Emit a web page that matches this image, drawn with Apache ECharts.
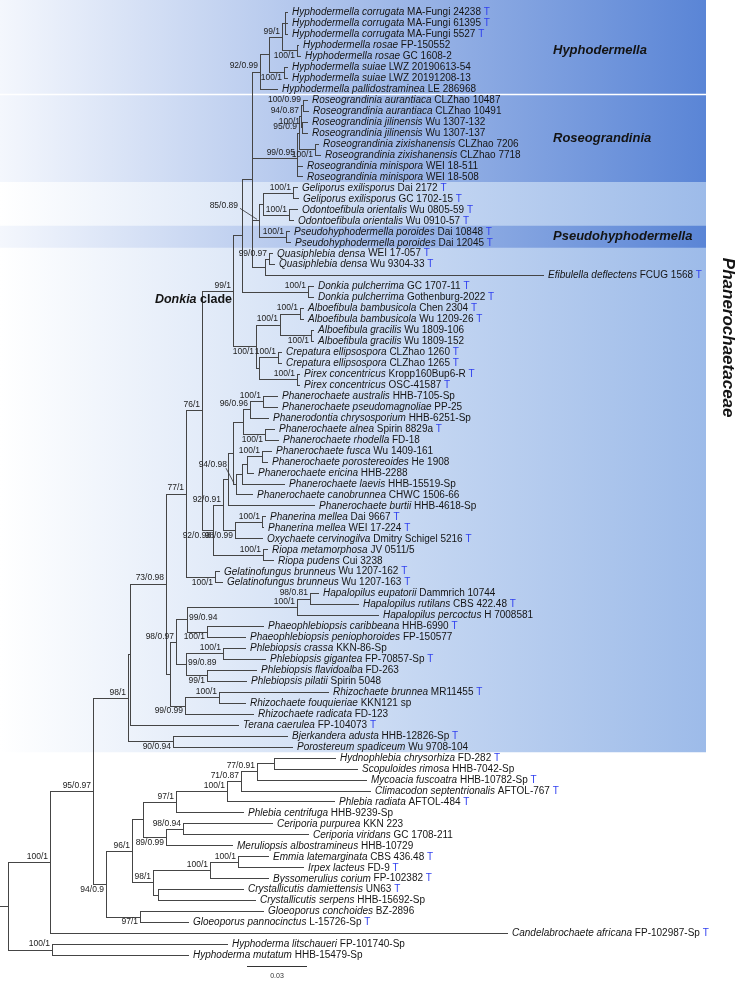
<!DOCTYPE html>
<html><head><meta charset="utf-8">
<script src="https://cdn.jsdelivr.net/npm/echarts@6/dist/echarts.min.js"></script>
<style>html,body{margin:0;padding:0;background:#fff}#c{width:736px;height:992px}</style>
</head><body><div id="c"></div>
<script>
// ---------- DATA ----------
// leaves (top to bottom)
const leafTaxa = [
'Hyphodermella corrugata','Hyphodermella corrugata','Hyphodermella corrugata','Hyphodermella rosae','Hyphodermella rosae',
'Hyphodermella suiae','Hyphodermella suiae','Hyphodermella pallidostraminea','Roseograndinia aurantiaca','Roseograndinia aurantiaca',
'Roseograndinia jilinensis','Roseograndinia jilinensis','Roseograndinia zixishanensis','Roseograndinia zixishanensis','Roseograndinia minispora',
'Roseograndinia minispora','Geliporus exilisporus','Geliporus exilisporus','Odontoefibula orientalis','Odontoefibula orientalis',
'Pseudohyphodermella poroides','Pseudohyphodermella poroides','Quasiphlebia densa','Quasiphlebia densa','Efibulella deflectens',
'Donkia pulcherrima','Donkia pulcherrima','Alboefibula bambusicola','Alboefibula bambusicola','Alboefibula gracilis',
'Alboefibula gracilis','Crepatura ellipsospora','Crepatura ellipsospora','Pirex concentricus','Pirex concentricus',
'Phanerochaete australis','Phanerochaete pseudomagnoliae','Phanerodontia chrysosporium','Phanerochaete alnea','Phanerochaete rhodella',
'Phanerochaete fusca','Phanerochaete porostereoides','Phanerochaete ericina','Phanerochaete laevis','Phanerochaete canobrunnea',
'Phanerochaete burtii','Phanerina mellea','Phanerina mellea','Oxychaete cervinogilva','Riopa metamorphosa',
'Riopa pudens','Gelatinofungus brunneus','Gelatinofungus brunneus','Hapalopilus eupatorii','Hapalopilus rutilans',
'Hapalopilus percoctus','Phaeophlebiopsis caribbeana','Phaeophlebiopsis peniophoroides','Phlebiopsis crassa','Phlebiopsis gigantea',
'Phlebiopsis flavidoalba','Phlebiopsis pilatii','Rhizochaete brunnea','Rhizochaete fouquieriae','Rhizochaete radicata',
'Terana caerulea','Bjerkandera adusta','Porostereum spadiceum','Hydnophlebia chrysorhiza','Scopuloides rimosa',
'Mycoacia fuscoatra','Climacodon septentrionalis','Phlebia radiata','Phlebia centrifuga','Ceriporia purpurea',
'Ceriporia viridans','Meruliopsis albostramineus','Emmia latemarginata','Irpex lacteus','Byssomerulius corium',
'Crystallicutis damiettensis','Crystallicutis serpens','Gloeoporus conchoides','Gloeoporus pannocinctus','Candelabrochaete africana',
'Hyphoderma litschaueri','Hyphoderma mutatum'];
const leafStrains = [
'MA-Fungi 24238','MA-Fungi 61395','MA-Fungi 5527','FP-150552','GC 1608-2',
'LWZ 20190613-54','LWZ 20191208-13','LE 286968','CLZhao 10487','CLZhao 10491',
'Wu 1307-132','Wu 1307-137','CLZhao 7206','CLZhao 7718','WEI 18-511',
'WEI 18-508','Dai 2172','GC 1702-15','Wu 0805-59','Wu 0910-57',
'Dai 10848','Dai 12045','WEI 17-057','Wu 9304-33','FCUG 1568',
'GC 1707-11','Gothenburg-2022','Chen 2304','Wu 1209-26','Wu 1809-106',
'Wu 1809-152','CLZhao 1260','CLZhao 1265','Kropp160Bup6-R','OSC-41587',
'HHB-7105-Sp','PP-25','HHB-6251-Sp','Spirin 8829a','FD-18',
'Wu 1409-161','He 1908','HHB-2288','HHB-15519-Sp','CHWC 1506-66',
'HHB-4618-Sp','Dai 9667','WEI 17-224','Dmitry Schigel 5216','JV 0511/5',
'Cui 3238','Wu 1207-162','Wu 1207-163','Dammrich 10744','CBS 422.48',
'H 7008581','HHB-6990','FP-150577','KKN-86-Sp','FP-70857-Sp',
'FD-263','Spirin 5048','MR11455','KKN121 sp','FD-123',
'FP-104073','HHB-12826-Sp','Wu 9708-104','FD-282','HHB-7042-Sp',
'HHB-10782-Sp','AFTOL-767','AFTOL-484','HHB-9239-Sp','KKN 223',
'GC 1708-211','HHB-10729','CBS 436.48','FD-9','FP-102382',
'UN63','HHB-15692-Sp','BZ-2896','L-15726-Sp','FP-102987-Sp',
'FP-101740-Sp','HHB-15479-Sp'];
const typeStrain = [
1,1,1,0,0, 0,0,0,0,0, 0,0,0,0,0, 0,1,1,1,1, 1,1,1,1,1, 1,1,1,1,0,
0,1,1,1,1, 0,0,0,1,0, 0,0,0,0,0, 0,1,1,1,0, 0,1,1,0,1, 0,1,0,0,1,
0,0,1,0,0, 1,1,0,1,0, 1,1,1,0,0, 0,0,1,1,1, 1,0,0,1,1, 0,0];
// branch tip depth of each leaf (units of 0.001 substitutions/site)
const leafDepths = [
143.5,143.5,143.5,149,150, 143.5,143.5,138.5,153.5,154, 153.5,153.5,159,160,151, 151,148.5,149,148.5,146.5,
144.5,145,136,137,271.5, 156.5,156.5,151.5,151.5,156.5, 156.5,140.5,140.5,149.5,149.5, 138.5,138.5,134,137,139,
135.5,133.5,126.5,142,126, 157,132.5,131.5,131,133.5, 136.5,109.5,111,159,179, 189,131.5,122.5,122.5,132.5,
128,123,164,122.5,126.5, 119,143.5,146,167.5,178.5, 183,185,167,121.5,136, 154,116,134,151.5,134,
121.5,127.5,131.5,94,253.5, 113.5,94];
const leafParents = [
'NCorr','NCorr','NCorr','NRosae','NRosae','NSuiae','NSuiae','NHyph','NAur','NAur',
'NJil','NJil','NZixi','NZixi','NRose','NRose','NGeli','NGeli','NOdo','NOdo',
'NPseudo','NPseudo','NQuasi','NQuasi','NQE','NDonkia','NDonkia','NAlboB','NAlboB','NAlboG',
'NAlboG','NCrep','NCrep','NPirex','NPirex','NAP','NAP','N96_96','NAR','NAR',
'NFP','NFP','Nbeta','Ngamma','Ndelta','Nzeta','NPhanerina','NPhanerina','N98_99','NRiopa',
'NRiopa','NGelat','NGelat','NHap1','NHap1','NHap2','NPhaeo','NPhaeo','NPcg','NPcg',
'NPfp','NPfp','NRb','NRb','N99_99','NX','N90','N90','Nhs','Nhs',
'N77b','N71','N100a','N97','N98c','N98c','N89','N100c','N100c','N100b',
'NCry','NCry','NGloeo','NGloeo','I1','Hyp','Hyp'];
// internal nodes
const nodeIds = ['root','I1','Hyp','N95','N98','NX','N73','N77','N76','N99',
'N242','N252','NHyph','N269','N99_1H','NCorr','NRosae','NSuiae','NRose','NR1',
'NR2','NAur','NJil','NZixi','NGOP','NGO','NGeli','NOdo','NPseudo','NQE',
'NQuasi','NDonkia','Nlow','NAlbo','NAlboB','NAlboG','NCP','NCrep','NPirex','N92_98',
'N92_91','Nzeta','Nepsilon','Nalpha','N96_96','NAP','NAR','Ndelta','Ngamma','Nbeta',
'NFP','N98_99','NPhanerina','NRiopa','NGelat','Nlower','Nq','N99_94','NHap2','NHap1',
'NPhaeo','NPhl','NPcg','NPfp','N99_99','NRb','N90','N94','N96','NA',
'N97','N100a','N71','N77b','Nhs','N89','N98c','N98b','N100b','N100c',
'NCry','NGloeo'];
const nodeParents = ['','root','root','I1','N95','N98','NX','N73','N77','N76',
'N99','N242','N252','NHyph','N269','N99_1H','N99_1H','N269','N252','NRose',
'NR1','NR2','NR2','NR1','N252','NGOP','NGO','NGO','NGOP','N252',
'NQE','N242','N99','Nlow','NAlbo','NAlbo','Nlow','NCP','NCP','N76',
'N92_98','N92_91','Nzeta','Nepsilon','Nalpha','N96_96','Nalpha','Nepsilon','Ndelta','Ngamma',
'Nbeta','N92_91','N98_99','N92_98','N77','N73','Nlower','Nq','N99_94','NHap2',
'N99_94','Nq','NPhl','NPhl','Nlower','N99_99','N98','N95','N94','N96',
'NA','N97','N100a','N71','N77b','NA','N89','N96','N98b','N100b',
'N98b','N94'];
const nodeDepths = [4,25,26,46.5,64,65,83,93,101,116.5,
121,126,130,134.5,141,142.5,148.5,142,148.5,149.5,
150.5,151.5,151,157.5,129.5,131.5,146.5,144.5,143,132.5,
134.5,154,128,140,150,155.5,129.5,139,148.5,106.5,
111.5,114,116.5,121.5,125,131.5,132.5,118,121,123.5,
131,117.5,131,131.5,107.5,85,88,93.5,148.5,155,
103.5,93,111.5,103.5,92.5,109.5,86.5,53,66,71.5,
88,113.5,120.5,128.5,137,83,91.5,76.5,105,119,
79,70];
const nodeSupports = ['','100/1','100/1','95/0.97','98/1','','73/0.98','77/1','76/1','99/1',
'','','92/0.99','','99/1','','100/1','100/1','99/0.95','95/0.9',
'94/0.87','100/0.99','100/1','100/1','85/0.89','','100/1','100/1','100/1','',
'99/0.97','100/1','100/1','100/1','100/1','100/1','','100/1','100/1','92/0.98',
'92/0.91','','','','96/0.96','100/1','100/1','94/0.98','','',
'100/1','98/0.99','100/1','100/1','100/1','','98/0.97','99/0.94','100/1','98/0.81',
'100/1','99/0.89','100/1','99/1','99/0.99','100/1','90/0.94','94/0.9','96/1','',
'97/1','100/1','71/0.87','77/0.91','','89/0.99','98/0.94','98/1','100/1','100/1',
'','97/1'];
// clade boxes: [first leaf, last leaf, tone, name]
const cladeBoxes = [[0,67,'light',''],[0,7,'dark','Hyphodermella'],[8,15,'dark','Roseograndinia'],[20,21,'dark','Pseudohyphodermella']];
const familyName = 'Phanerochaetaceae';
const scaleBarLength = 30; // = 0.03
const scaleBarLabel = '0.03';

// ---------- STYLE ----------
const F = "'Liberation Sans', Arial, Helvetica, sans-serif";
const LINE = '#454545';
const labelMode = {NRosae:'below',NSuiae:'below',NZixi:'below',Nlow:'below',NAlboG:'below',N92_98:'below',NAR:'below',
  N98_99:'below',NGelat:'below',NPhaeo:'below',NPfp:'below',N99_99:'below',N90:'below',N94:'below',N89:'below',NGloeo:'below',
  N99_94:'right',NPhl:'right',NGOP:'leaderA',Ndelta:'leaderB'};
const boxTones = {light:['#ffffff','#9dbbe9'], dark:['#f4f7fd','#5a85d6']};
const boxRight = 353, cladeLabelX = 276.5;
const scaleBarPos = [123.5, 87.0];

// ---------- LAYOUT ----------
const idx = {}; nodeIds.forEach((id,i)=>idx[id]=i);
const kids = nodeIds.map(()=>[]);
leafParents.forEach((p,i)=>kids[idx[p]].push({leaf:true,i}));
nodeParents.forEach((p,i)=>{ if(p) kids[idx[p]].push({leaf:false,i}); });
const nodeY=[], nodeMin=[], nodeMax=[];
function yOf(c){ return c.leaf ? c.i : calcY(c.i); }
function calcY(i){
  if(nodeY[i]!==undefined) return nodeY[i];
  const ys = kids[i].map(yOf);
  nodeY[i] = ys.reduce((a,b)=>a+b,0)/ys.length;
  nodeMin[i] = Math.min(...ys); nodeMax[i] = Math.max(...ys);
  return nodeY[i];
}
nodeIds.forEach((_,i)=>calcY(i));
const branchData = [];
leafTaxa.forEach((_,i)=>branchData.push([leafDepths[i], i, nodeDepths[idx[leafParents[i]]], i, i, 0]));
nodeIds.forEach((id,i)=>branchData.push([nodeDepths[i], nodeY[i], nodeParents[i]?nodeDepths[idx[nodeParents[i]]]:0, nodeMin[i], nodeMax[i], 1]));
const supportData = nodeIds.map((id,i)=>[nodeDepths[i], nodeY[i]]);

const snap = v => Math.round(v)+0.5;

const chart = echarts.init(document.getElementById('c'), null, {renderer:'canvas'});
chart.setOption({
  animation:false,
  grid:{left:0,right:0,top:12,bottom:37},
  xAxis:{type:'value',min:0,max:368,show:false},
  yAxis:{type:'value',min:0,max:86,inverse:true,show:false},
  series:[
  { type:'custom', clip:false, z:1, data: cladeBoxes.map((b,i)=>[i]),
    renderItem(params, api){
      const k = params.dataIndex, b = cladeBoxes[k];
      const top = b[0]===0 ? 0 : api.coord([0,b[0]-0.5])[1];
      const bottom = api.coord([0,b[1]+0.5])[1];
      const x0 = api.coord([0,0])[0], x1 = api.coord([boxRight,0])[0];
      const c = boxTones[b[2]];
      const els = [{type:'rect', shape:{x:x0,y:top,width:x1-x0,height:bottom-top},
        style:{fill:new echarts.graphic.LinearGradient(0,0,1,0,[{offset:0,color:c[0]},{offset:1,color:c[1]}])}}];
      // white separator where two dark boxes touch
      const prev = cladeBoxes[k-1];
      if(k>1 && prev && prev[2]==='dark' && prev[1]+1===b[0]){
        els.push({type:'line', shape:{x1:x0,y1:snap(top),x2:x1,y2:snap(top)}, style:{stroke:'#ffffff', lineWidth:1.5}});
      }
      if(b[3]){
        const p = api.coord([cladeLabelX,(b[0]+b[1])/2]);
        els.push({type:'text', x:p[0], y:p[1], style:{text:b[3], font:`italic bold 13px ${F}`, fill:'#141414',
          align:'left', verticalAlign:'middle', textAlign:'left', textVerticalAlign:'middle'}});
      }
      return {type:'group', children:els};
    }},
  { type:'custom', clip:false, z:3, data: branchData,
    renderItem(params, api){
      const x=api.value(0), y=api.value(1), px=api.value(2);
      const p = api.coord([x,y]), pp = api.coord([px,y]);
      const st = {stroke:LINE, lineWidth:1};
      const yy = snap(p[1]);
      const ch = [{type:'line', shape:{x1:Math.round(pp[0]),y1:yy,x2:Math.round(p[0])+1,y2:yy}, style:st}];
      if(api.value(5)===1){
        const a = api.coord([x,api.value(3)]), b = api.coord([x,api.value(4)]);
        ch.push({type:'line', shape:{x1:snap(p[0]),y1:Math.round(a[1]),x2:snap(p[0]),y2:Math.round(b[1])+1}, style:st});
      }
      return {type:'group', children:ch};
    }},
  { type:'custom', clip:false, z:4, data: leafTaxa.map((_,i)=>[leafDepths[i], i]),
    renderItem(params, api){
      const i = params.dataIndex;
      const p = api.coord([api.value(0), api.value(1)]);
      const txt = `{i|${leafTaxa[i]}} ${leafStrains[i]}` + (typeStrain[i] ? ' {t|T}' : '');
      return {type:'text', x:p[0]+5, y:p[1]+0.5, style:{text:txt, font:`10px ${F}`, fill:'#151515',
        align:'left', verticalAlign:'middle', textAlign:'left', textVerticalAlign:'middle',
        rich:{i:{fontStyle:'italic', fontSize:10, fontFamily:F, fill:'#151515'}, t:{fontSize:10, fontFamily:F, fill:'#2f3ff0'}}}};
    }},
  { type:'custom', clip:false, z:5, data: supportData,
    renderItem(params, api){
      const i = params.dataIndex, s = nodeSupports[i];
      if(!s) return null;
      const p = api.coord([api.value(0), api.value(1)]);
      const mode = labelMode[nodeIds[i]] || 'above';
      const base = {text:s, font:`8.5px ${F}`, fill:'#222'};
      const mk = (x,y,al,va)=>({type:'text', x, y, style:Object.assign({}, base, {align:al, verticalAlign:va, textAlign:al, textVerticalAlign:va})});
      if(mode==='above') return mk(p[0]-2, p[1]-1, 'right','bottom');
      if(mode==='below') return mk(p[0]-2, p[1]+1, 'right','top');
      if(mode==='right') return mk(p[0]+2, p[1]-2, 'left','middle');
      const o = mode==='leaderA' ? {tx:-21, ty:-15, lx:-19, ly:-12} : {tx:-9, ty:-20, lx:-10, ly:-16};
      return {type:'group', children:[
        mk(p[0]+o.tx, p[1]+o.ty, 'right','middle'),
        {type:'line', shape:{x1:p[0]+o.lx, y1:p[1]+o.ly, x2:p[0]-2, y2:p[1]-1}, style:{stroke:'#333', lineWidth:0.8}}
      ]};
    }},
  { type:'custom', clip:false, z:6, data:[[0]],
    renderItem(params, api){
      const n99 = api.coord([nodeDepths[idx.N99], nodeY[idx.N99]]);
      const fam = api.coord([364, 29.7]);
      const sb0 = api.coord(scaleBarPos), sb1 = api.coord([scaleBarPos[0]+scaleBarLength, scaleBarPos[1]]);
      return {type:'group', children:[
        {type:'text', x:n99[0]-1, y:n99[1]+9, style:{text:'{b|Donkia} clade', font:`bold 12.5px ${F}`, fill:'#141414',
          align:'right', verticalAlign:'middle', textAlign:'right', textVerticalAlign:'middle',
          rich:{b:{fontStyle:'italic', fontWeight:'bold', fontSize:12.5, fontFamily:F, fill:'#141414'}}}},
        {type:'text', x:fam[0], y:fam[1], rotation:-Math.PI/2, style:{text:familyName, font:`italic bold 17px ${F}`, fill:'#141414',
          align:'center', verticalAlign:'middle', textAlign:'center', textVerticalAlign:'middle'}},
        {type:'line', shape:{x1:sb0[0], y1:snap(sb0[1]), x2:sb1[0], y2:snap(sb0[1])}, style:{stroke:'#333', lineWidth:1}},
        {type:'text', x:(sb0[0]+sb1[0])/2, y:sb0[1]+7, style:{text:scaleBarLabel, font:`7px ${F}`, fill:'#333',
          align:'center', verticalAlign:'top', textAlign:'center', textVerticalAlign:'top'}}
      ]};
    }}
  ]
});
</script></body></html>
